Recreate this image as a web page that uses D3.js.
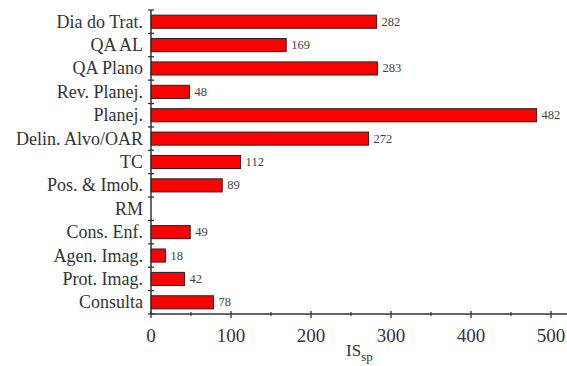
<!DOCTYPE html>
<html><head><meta charset="utf-8">
<script src="https://cdn.jsdelivr.net/npm/d3@7"></script>
<style>body{margin:0;background:#fff}svg{display:block}text{font-family:"Liberation Serif","DejaVu Serif",serif}</style>
</head><body>
<script>
const categories = ["Dia do Trat.","QA AL","QA Plano","Rev. Planej.","Planej.","Delin. Alvo/OAR","TC","Pos. & Imob.","RM","Cons. Enf.","Agen. Imag.","Prot. Imag.","Consulta"];
const values = [282,169,283,48,482,272,112,89,null,49,18,42,78];
const xTicks = [0,100,200,300,400,500];
const xMinorTicks = [50,150,250,350,450];

const W = 567, H = 366;
const svg = d3.select("body").append("svg").attr("width",W).attr("height",H);
const mLeft = 151, mTop = 10, mBottom = 314, mRight = 567;

const x = d3.scaleLinear().domain([0,520]).range([mLeft,mRight]);
const y = d3.scaleBand().domain(categories).range([mTop,mBottom]).paddingInner(0.44).paddingOuter(0.22);
const axisColor = "#333";
const rows = categories.map((c,i)=>({c,v:values[i]})).filter(d=>d.v!=null);

// bars
svg.selectAll("rect.bar").data(rows).enter().append("rect")
  .attr("x",x(0)).attr("y",d=>y(d.c))
  .attr("width",d=>x(d.v)-x(0)).attr("height",y.bandwidth())
  .attr("fill","#ff0000").attr("stroke","#222").attr("stroke-width",1);

// value labels
svg.selectAll("text.val").data(rows).enter().append("text")
  .attr("x",d=>x(d.v)+5).attr("y",d=>y(d.c)+y.bandwidth()/2+4)
  .attr("font-size",12.5).attr("fill","#444")
  .text(d=>d.v);

// x axis
const xAxis = svg.append("g").attr("transform",`translate(0,${mBottom})`);
xAxis.append("line").attr("x1",mLeft).attr("x2",mRight).attr("stroke",axisColor).attr("stroke-width",1.5);
xAxis.selectAll("line.maj").data(xTicks).enter().append("line")
  .attr("x1",d=>x(d)).attr("x2",d=>x(d)).attr("y1",-3).attr("y2",4).attr("stroke",axisColor).attr("stroke-width",1.3);
xAxis.selectAll("line.min").data(xMinorTicks).enter().append("line")
  .attr("x1",d=>x(d)).attr("x2",d=>x(d)).attr("y1",-2).attr("y2",2).attr("stroke",axisColor).attr("stroke-width",1.2);
xAxis.selectAll("text").data(xTicks).enter().append("text")
  .attr("x",d=>x(d)).attr("y",28).attr("text-anchor","middle")
  .attr("font-size",19).attr("fill","#333").text(d=>d);

const xl = svg.append("text").attr("x",346).attr("y",356)
  .attr("font-size",17).attr("fill","#333");
xl.append("tspan").text("IS");
xl.append("tspan").attr("dy",5).attr("font-size",13).text("sp");

// y axis
const yAxis = svg.append("g");
yAxis.append("line").attr("x1",mLeft).attr("x2",mLeft).attr("y1",mTop).attr("y2",mBottom).attr("stroke",axisColor).attr("stroke-width",1.5);
const bounds = d3.range(categories.length+1).map(i=>mTop + i*(mBottom-mTop)/categories.length);
yAxis.selectAll("line.t").data(bounds).enter().append("line")
  .attr("x1",mLeft-3).attr("x2",mLeft+3).attr("y1",d=>d).attr("y2",d=>d).attr("stroke",axisColor).attr("stroke-width",1.3);
yAxis.selectAll("text").data(categories).enter().append("text")
  .attr("x",mLeft-8).attr("y",d=>y(d)+y.bandwidth()/2+6)
  .attr("text-anchor","end").attr("font-size",18).attr("fill","#333").text(d=>d);
</script>
</body></html>
